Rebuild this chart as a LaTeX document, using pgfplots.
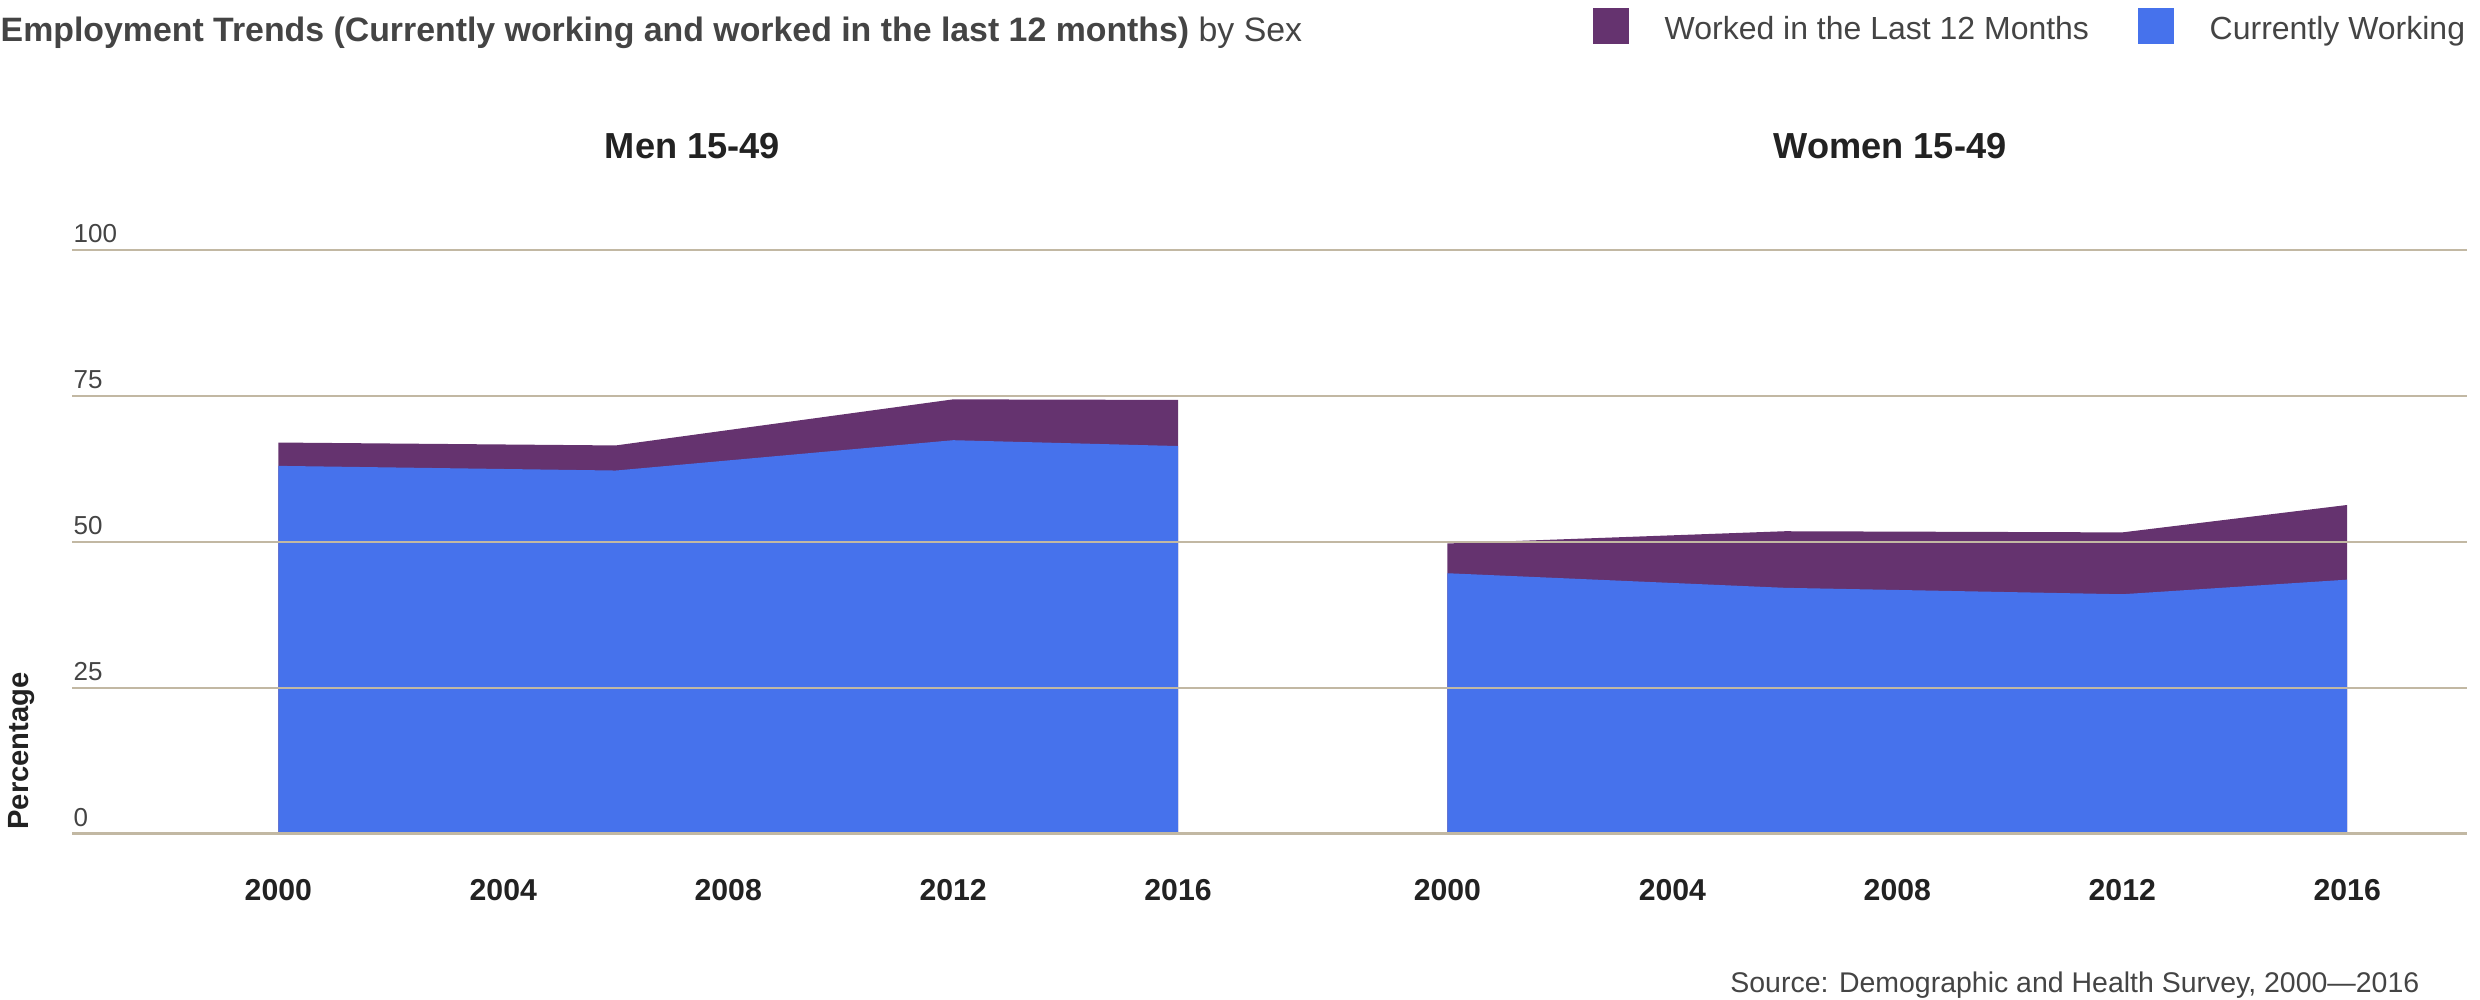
\documentclass[border=0pt]{standalone}
\usepackage{fontspec}
\setmainfont{Liberation Sans}
\usepackage{pgfplots}
\pgfplotsset{compat=1.18}
\definecolor{cPurple}{HTML}{65336F}
\definecolor{cBlue}{HTML}{4672EC}
\definecolor{cGrid}{HTML}{C2B8A3}
\definecolor{cText}{HTML}{444444}
\definecolor{cTick}{HTML}{222222}
\pgfplotsset{panel/.style={
  scale only axis, height=5.835cm, ymin=0, ymax=100, ytick={0,25,50,75,100},
  axis on top, axis line style={draw=none}, major tick length=0pt,
  ymajorgrids, grid style={cGrid, line width=0.6pt},
  xtick={2000,2004,2008,2012,2016},
  /pgf/number format/assume math mode=true,
  /pgf/number format/1000 sep={},
  xticklabel style={font=\fontsize{8.6}{10}\selectfont\bfseries, text=cTick, anchor=center, yshift=-0.565cm},
  yticklabel style={font=\fontsize{7.4}{9}\selectfont, text=cText, anchor=base west, inner sep=0pt, xshift=0.01cm, yshift=0.07cm},
  title style={font=\fontsize{10.3}{12}\selectfont\bfseries, text=cTick, anchor=base, at={(0.5,1)}, yshift=0.70cm, inner sep=0pt},
}}
\begin{document}
\begin{tikzpicture}
\useasboundingbox (0,0) rectangle (24.8,10);
\begin{axis}[panel, at={(0.72cm,1.665cm)}, anchor=south west, width=12.41cm,
  xmin=1996.33, xmax=2018.40, title={Men 15-49}]
\addplot[fill=cPurple, draw=none] coordinates {(2000,67.0) (2006,66.5) (2012,74.4) (2016,74.3)} \closedcycle;
\addplot[fill=cBlue, draw=none] coordinates {(2000,63.0) (2006,62.2) (2012,67.4) (2016,66.4)} \closedcycle;
\end{axis}
\begin{axis}[panel, at={(13.13cm,1.665cm)}, anchor=south west, width=11.54cm,
  xmin=1997.61, xmax=2018.13, yticklabels={}, title={Women 15-49}]
\addplot[fill=cPurple, draw=none] coordinates {(2000,49.7) (2006,51.8) (2012,51.6) (2016,56.3)} \closedcycle;
\addplot[fill=cBlue, draw=none] coordinates {(2000,44.6) (2006,42.1) (2012,41.0) (2016,43.5)} \closedcycle;
\end{axis}
\node[anchor=base west, inner sep=0pt, text=cText, font=\fontsize{9.63}{11}\selectfont] at (0,9.58) {\textbf{Employment Trends (Currently working and worked in the last 12 months)} by Sex};
\fill[cPurple] (15.93,9.56) rectangle ++(0.36,0.36);
\node[anchor=base west, inner sep=0pt, text=cText, font=\fontsize{9.1}{11}\selectfont] at (16.64,9.605) {Worked in the Last 12 Months};
\fill[cBlue] (21.38,9.56) rectangle ++(0.36,0.36);
\node[anchor=base west, inner sep=0pt, text=cText, font=\fontsize{9.1}{11}\selectfont] at (22.09,9.605) {Currently Working};
\node[anchor=center, rotate=90, inner sep=0pt, text=cTick, font=\fontsize{8.3}{10}\selectfont\bfseries] at (0.22,2.49) {Percentage};
\node[anchor=base east, inner sep=0pt, text=cText, font=\fontsize{8.1}{10}\selectfont] at (24.2,0.07) {Source: Demographic and Health Survey, 2000—2016};
\end{tikzpicture}
\end{document}
